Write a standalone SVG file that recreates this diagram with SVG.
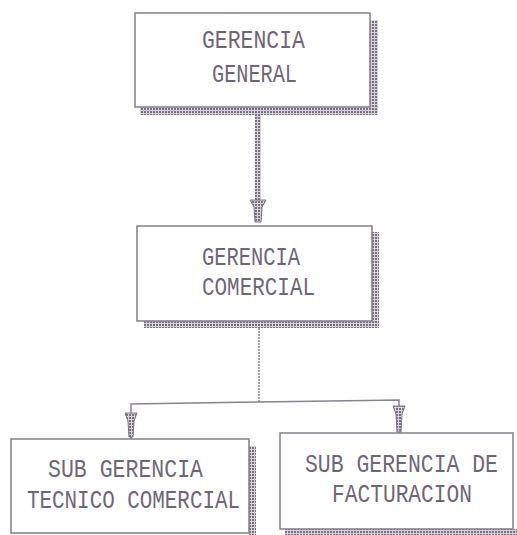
<svg xmlns="http://www.w3.org/2000/svg" width="517" height="535" viewBox="0 0 517 535">
<defs>
<pattern id="dots" width="3" height="3" patternUnits="userSpaceOnUse">
<rect width="3" height="3" fill="#d8d2dc"/>
<rect x="0" y="0" width="2" height="2" fill="#77707e"/>
</pattern>
</defs>
<style>
.box{fill:#ffffff;stroke:#857d8c;stroke-width:1.5;}
.sh{fill:url(#dots);}
.t{font-family:"Liberation Mono","DejaVu Sans Mono",monospace;font-size:21px;fill:#6e6676;}
.ln{fill:none;stroke:#8a8290;stroke-width:1.5;}
.ah{fill:url(#dots);stroke:#7a7280;stroke-width:1;}
</style>
<rect width="517" height="535" fill="#ffffff"/>
<g id="connectors">
<rect x="255" y="115" width="6" height="88" fill="url(#dots)"/>
<polygon class="ah" points="250,200 266,200 262,207 261,222 255,222 254,207"/>
<line class="ln" x1="259" y1="328" x2="259" y2="402" stroke-dasharray="2 1"/>
<polyline class="ln" points="131,439 131,404 259,402 399,400 399,433"/>
<polygon class="ah" points="125,413 137,413 134,421 133,437 129,437 128,421"/>
<polygon class="ah" points="393,406 405,406 402,414 401,432 397,432 396,414"/>
</g>
<g id="gerencia-general">
<rect class="sh" x="370" y="20" width="8" height="95"/>
<rect class="sh" x="140" y="107" width="238" height="8"/>
<rect class="box" x="135" y="13" width="235" height="94"/>
<text class="t" transform="translate(202,48) scale(1,1.25)" textLength="103" lengthAdjust="spacingAndGlyphs">GERENCIA</text>
<text class="t" transform="translate(212,82) scale(1,1.25)" textLength="85" lengthAdjust="spacingAndGlyphs">GENERAL</text>
</g>
<g id="gerencia-comercial">
<rect class="sh" x="372" y="232" width="7" height="96"/>
<rect class="sh" x="144" y="321" width="235" height="7"/>
<rect class="box" x="137" y="226" width="235" height="95"/>
<text class="t" transform="translate(202,265) scale(1,1.25)" textLength="98" lengthAdjust="spacingAndGlyphs">GERENCIA</text>
<text class="t" transform="translate(202,295) scale(1,1.25)" textLength="113" lengthAdjust="spacingAndGlyphs">COMERCIAL</text>
</g>
<g id="sub-gerencia-tecnico-comercial">
<rect class="sh" x="249" y="446" width="7" height="89"/>
<rect class="box" x="11" y="439" width="238" height="94"/>
<text class="t" transform="translate(48,477) scale(1,1.25)" textLength="155" lengthAdjust="spacingAndGlyphs">SUB GERENCIA</text>
<text class="t" transform="translate(27,508) scale(1,1.25)" textLength="213" lengthAdjust="spacingAndGlyphs">TECNICO COMERCIAL</text>
</g>
<g id="sub-gerencia-facturacion">
<rect class="sh" x="285" y="529" width="232" height="6"/>
<rect class="box" x="280" y="433" width="233" height="96"/>
<text class="t" transform="translate(305,472) scale(1,1.25)" textLength="193" lengthAdjust="spacingAndGlyphs">SUB GERENCIA DE</text>
<text class="t" transform="translate(332,502) scale(1,1.25)" textLength="140" lengthAdjust="spacingAndGlyphs">FACTURACION</text>
</g>
</svg>
